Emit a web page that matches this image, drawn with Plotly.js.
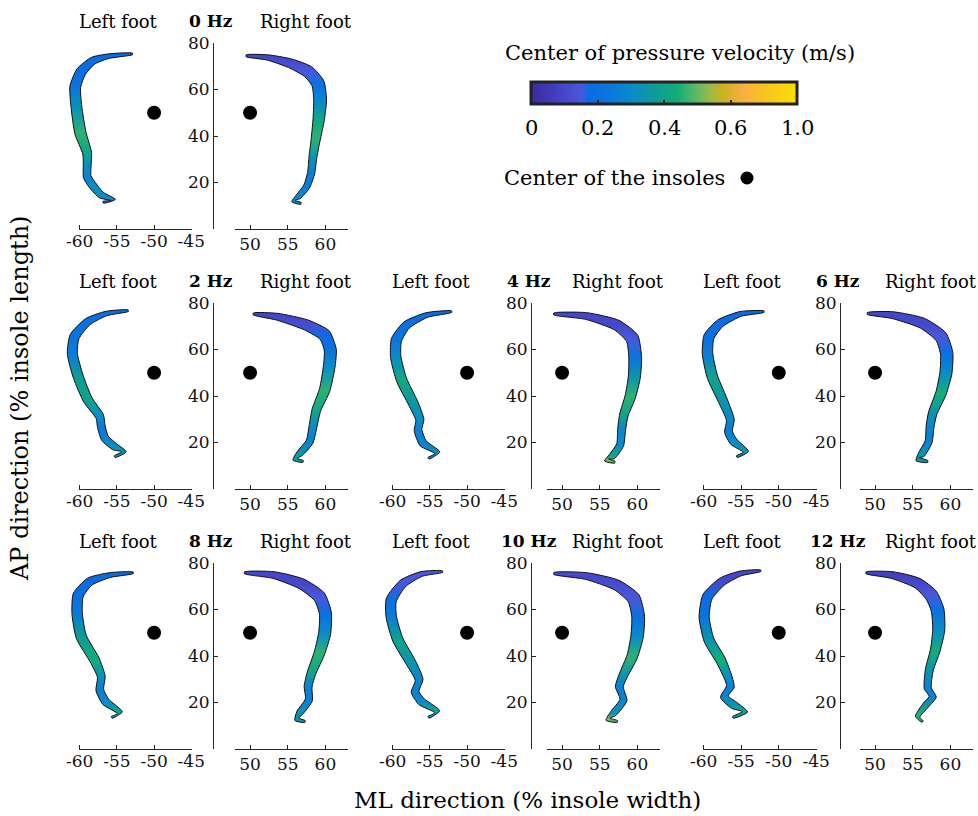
<!DOCTYPE html>
<html><head><meta charset="utf-8">
<script src="https://cdn.plot.ly/plotly-3.0.1.min.js"></script>
<style>html,body{margin:0;padding:0;background:#fff}#plot{width:978px;height:816px}</style>
</head><body><div id="plot"></div>
<script>
// ---------------- DATA ----------------
const panelLabels = ['0 Hz','2 Hz','4 Hz','6 Hz','8 Hz','10 Hz','12 Hz'];
const footLabels = ['Left foot','Right foot'];
const leftTickVals = [-60,-55,-50,-45];
const leftTickText = ['-60','-55','-50','-45'];
const rightTickVals = [50,55,60];
const rightTickText = ['50','55','60'];
const yTickVals = [20,40,60,80];
const yTickText = ['20','40','60','80'];
const insoleCenterLeft = [-50, 50];
const insoleCenterRight = [50, 50];
const cbTickVals = [0,0.2,0.4,0.6,0.8];
const cbTickText = ['0','0.2','0.4','0.6','1.0'];
const legendTitle = 'Center of pressure velocity (m/s)';
const legendDot = 'Center of the insoles';
const xTitle = 'ML direction (% insole width)';
const yTitle = 'AP direction (% insole length)';

// centre-line of COP band (x, y), band width (x units), velocity (m/s)
// 0 Hz
const hz0_L_x = [-52.9,-56.0,-58.2,-59.8,-60.6,-60.45,-59.9,-59.0,-59.0,-59.0,-58.3,-57.1,-55.5,-56.85];
const hz0_L_y = [75.3,74.4,72.4,67.7,61.2,52.6,41.2,32.6,26.8,22.5,18.9,14.6,12.5,11.5];
const hz0_L_w = [0.2,0.6,1.0,1.35,1.45,1.45,1.5,1.2,1.05,1.05,1.05,0.9,0.6,0.25];
const hz0_L_v = [0.18,0.18,0.18,0.18,0.22,0.32,0.46,0.40,0.30,0.27,0.30,0.32,0.28,0.25];
const hz0_R_x = [49.48,52.3,55.3,57.7,59.0,59.3,59.1,58.7,58.35,58.1,57.5,56.4,55.75,56.75];
const hz0_R_y = [74.5,73.8,71.3,67.7,62.7,55.5,46.9,38.3,31.1,24.0,18.2,13.9,12.0,11.0];
const hz0_R_w = [0.25,0.7,1.2,1.6,1.7,1.7,1.5,1.2,1.05,0.95,0.85,0.7,0.45,0.25];
const hz0_R_v = [0.1,0.1,0.12,0.15,0.2,0.28,0.42,0.46,0.34,0.26,0.25,0.3,0.3,0.28];
// 2 Hz
const hz2_L_x = [-53.47,-56.4,-58.9,-60.7,-61.0,-60.2,-58.9,-57.3,-57.1,-56.6,-55.3,-54.05,-55.3];
const hz2_L_y = [76.7,75.5,72.0,65.5,58.4,48.3,38.3,31.1,26.8,21.8,18.2,16.0,13.9];
const hz2_L_w = [0.2,0.6,1.0,1.3,1.35,1.35,1.25,1.1,1.05,1.05,0.95,0.6,0.25];
const hz2_L_v = [0.2,0.2,0.2,0.22,0.25,0.38,0.40,0.3,0.25,0.27,0.32,0.35,0.3];
const hz2_R_x = [50.43,53.6,57.5,59.9,60.65,60.5,59.9,58.8,58.35,57.9,56.6,55.97,57.05];
const hz2_R_y = [75.3,74.1,70.5,66.2,59.8,52.6,42.6,34.0,26.8,20.3,15.3,12.8,11.8];
const hz2_R_w = [0.25,0.9,1.4,1.65,1.6,1.55,1.4,1.15,1.05,0.95,0.85,0.6,0.25];
const hz2_R_v = [0.1,0.1,0.12,0.17,0.22,0.3,0.46,0.42,0.3,0.27,0.33,0.38,0.35];
// 4 Hz
const hz4_L_x = [-52.07,-55.45,-58.15,-59.5,-59.6,-58.8,-57.25,-56.35,-56.6,-55.9,-54.0,-55.2];
const hz4_L_y = [76.3,74.8,70.5,64.1,56.9,46.9,36.9,29.7,25.4,19.6,15.6,13.2];
const hz4_L_w = [0.2,0.65,1.1,1.4,1.4,1.4,1.3,1.1,1.05,1.05,0.7,0.25];
const hz4_L_v = [0.2,0.2,0.2,0.22,0.3,0.42,0.36,0.3,0.27,0.27,0.32,0.3];
const hz4_R_x = [48.9,53.2,57.25,59.3,59.7,59.6,59.05,58.2,57.9,57.7,56.6,55.9,57.0];
const hz4_R_y = [75.3,74.4,70.5,64.8,56.9,48.3,39.7,31.8,25.4,18.9,13.9,12.5,11.5];
const hz4_R_w = [0.25,0.9,1.4,1.7,1.7,1.6,1.4,1.15,1.05,0.95,0.85,0.6,0.25];
const hz4_R_v = [0.1,0.1,0.1,0.15,0.22,0.34,0.46,0.4,0.28,0.3,0.42,0.52,0.46];
// 6 Hz
const hz6_L_x = [-51.97,-55.1,-57.8,-59.3,-59.5,-58.85,-57.3,-56.45,-56.7,-56.0,-54.4,-55.6];
const hz6_L_y = [76.3,75.3,71.3,65.5,58.4,48.3,36.9,29.7,24.6,20.3,16.0,13.9];
const hz6_L_w = [0.2,0.65,1.1,1.4,1.4,1.4,1.2,1.05,1.05,1.05,0.7,0.25];
const hz6_L_v = [0.18,0.18,0.18,0.2,0.25,0.4,0.34,0.28,0.26,0.3,0.36,0.3];
const hz6_R_x = [48.97,52.3,56.3,58.75,59.5,59.4,58.75,57.65,57.3,57.1,56.1,55.65,57.0];
const hz6_R_y = [75.5,74.8,71.3,65.5,58.4,49.8,41.2,32.6,26.8,20.3,14.6,12.8,11.8];
const hz6_R_w = [0.25,0.9,1.4,1.65,1.65,1.6,1.4,1.15,1.05,0.95,0.85,0.6,0.25];
const hz6_R_v = [0.1,0.1,0.1,0.15,0.2,0.3,0.44,0.34,0.27,0.27,0.33,0.36,0.33];
// 8 Hz
const hz8_L_x = [-52.8,-55.95,-58.65,-60.2,-60.35,-59.8,-58.0,-57.1,-57.3,-56.5,-54.6,-55.7];
const hz8_L_y = [75.8,74.8,72.0,66.2,58.4,48.3,38.3,31.1,25.4,20.3,15.6,13.6];
const hz8_L_w = [0.2,0.65,1.1,1.4,1.4,1.4,1.3,1.05,1.05,1.05,0.7,0.25];
const hz8_L_v = [0.18,0.18,0.18,0.2,0.25,0.38,0.44,0.32,0.26,0.3,0.4,0.3];
const hz8_R_x = [49.26,53.15,56.85,59.2,60.0,59.9,59.2,58.15,57.7,57.8,56.6,56.2,57.3];
const hz8_R_y = [75.8,74.8,71.0,65.5,58.4,49.8,41.2,32.6,26.8,21.1,15.6,12.8,11.8];
const hz8_R_w = [0.25,0.9,1.4,1.65,1.6,1.6,1.4,1.15,1.05,0.95,0.85,0.6,0.25];
const hz8_R_v = [0.1,0.1,0.1,0.15,0.2,0.3,0.46,0.4,0.27,0.27,0.32,0.36,0.33];
// 10 Hz
const hz10_L_x = [-53.3,-56.1,-58.6,-60.2,-60.2,-59.3,-57.5,-56.45,-57.0,-56.1,-54.0,-55.2];
const hz10_L_y = [76.3,75.3,71.3,64.1,56.9,46.9,36.9,29.7,24.6,20.3,16.0,13.6];
const hz10_L_w = [0.2,0.65,1.1,1.4,1.4,1.4,1.3,1.05,1.05,1.05,0.7,0.25];
const hz10_L_v = [0.15,0.15,0.15,0.2,0.25,0.4,0.34,0.28,0.27,0.3,0.42,0.35];
const hz10_R_x = [48.9,53.2,57.25,59.5,60.1,59.95,59.3,58.15,57.6,58.15,56.8,56.1,57.35];
const hz10_R_y = [75.5,74.4,70.5,64.8,56.9,48.3,39.7,31.8,26.8,21.1,15.3,12.8,11.8];
const hz10_R_w = [0.25,0.9,1.4,1.7,1.7,1.65,1.4,1.15,1.05,0.95,0.85,0.6,0.25];
const hz10_R_v = [0.12,0.1,0.12,0.15,0.2,0.3,0.46,0.34,0.27,0.28,0.33,0.52,0.46];
// 12 Hz
const hz12_L_x = [-52.4,-55.1,-57.55,-59.5,-59.95,-59.3,-57.75,-56.7,-56.45,-57.25,-56.0,-54.5,-56.1];
const hz12_L_y = [76.7,75.5,72.0,65.5,56.9,46.9,38.3,30.4,26.8,22.5,18.9,16.0,13.6];
const hz12_L_w = [0.2,0.65,1.1,1.35,1.35,1.35,1.3,1.05,1.05,1.05,1.05,0.7,0.25];
const hz12_L_v = [0.1,0.1,0.1,0.18,0.22,0.34,0.44,0.3,0.27,0.28,0.34,0.42,0.35];
const hz12_R_x = [48.8,52.3,55.65,57.45,58.3,58.45,58.0,57.2,57.0,57.65,56.75,55.65,56.3];
const hz12_R_y = [75.8,74.8,71.3,66.2,59.8,51.2,42.6,34.0,26.1,22.5,18.9,13.9,11.8];
const hz12_R_w = [0.25,0.9,1.4,1.7,1.7,1.6,1.3,1.05,0.95,0.95,0.85,0.6,0.25];
const hz12_R_v = [0.08,0.08,0.1,0.15,0.2,0.3,0.44,0.34,0.27,0.27,0.36,0.46,0.4];

// ---------------- STYLE / LAYOUT ----------------
const W = 978, H = 816;
const SERIF = '"DejaVu Serif", "Liberation Serif", serif';
const AXC = '#262626';
const colGeom = [
  {L:[79,192], yax:213, R:[235,348]},
  {L:[392,505], yax:531, R:[547,660]},
  {L:[703,817], yax:840, R:[860,973]}
];
const rowGeom = [{top:43,bot:229},{top:303,bot:489},{top:563,bot:749}];
const panelPos = [[0,0],[1,0],[1,1],[1,2],[2,0],[2,1],[2,2]];
const LEFT_RANGE = [-60.1,-44.9], RIGHT_RANGE = [48,63], Y_RANGE = [0,80];
const LEFT_EXT = 24;
const VMAX = 0.8;
const CB = {x0:531, x1:797, y0:85, y1:107};
const cscale = [[0,'#3b2a98'],[0.1,'#4340c4'],[0.19,'#4a58dc'],[0.215,'#0a6ae4'],[0.3,'#0a78dc'],
  [0.38,'#0a8cc8'],[0.47,'#0e9c94'],[0.55,'#12ae78'],[0.62,'#5cb868'],[0.68,'#a4b844'],
  [0.72,'#c8b41c'],[0.8,'#f8b040'],[0.86,'#f8c024'],[1,'#f8e000']];

function hex2rgb(h){return [parseInt(h.slice(1,3),16),parseInt(h.slice(3,5),16),parseInt(h.slice(5,7),16)];}
function cmap(t){
  t = Math.max(0, Math.min(1, t));
  for (let i=1;i<cscale.length;i++){
    if (t <= cscale[i][0]){
      const a=cscale[i-1], b=cscale[i];
      const f=(t-a[0])/(b[0]-a[0]||1);
      const ca=hex2rgb(a[1]), cb=hex2rgb(b[1]);
      return 'rgb('+ca.map((c,k)=>Math.round(c+(cb[k]-c)*f)).join(',')+')';
    }
  }
  return cscale[cscale.length-1][1];
}

const panels = [
  [hz0_L_x,hz0_L_y,hz0_L_w,hz0_L_v,hz0_R_x,hz0_R_y,hz0_R_w,hz0_R_v],
  [hz2_L_x,hz2_L_y,hz2_L_w,hz2_L_v,hz2_R_x,hz2_R_y,hz2_R_w,hz2_R_v],
  [hz4_L_x,hz4_L_y,hz4_L_w,hz4_L_v,hz4_R_x,hz4_R_y,hz4_R_w,hz4_R_v],
  [hz6_L_x,hz6_L_y,hz6_L_w,hz6_L_v,hz6_R_x,hz6_R_y,hz6_R_w,hz6_R_v],
  [hz8_L_x,hz8_L_y,hz8_L_w,hz8_L_v,hz8_R_x,hz8_R_y,hz8_R_w,hz8_R_v],
  [hz10_L_x,hz10_L_y,hz10_L_w,hz10_L_v,hz10_R_x,hz10_R_y,hz10_R_w,hz10_R_v],
  [hz12_L_x,hz12_L_y,hz12_L_w,hz12_L_v,hz12_R_x,hz12_R_y,hz12_R_w,hz12_R_v]
];

// build band polygon around centre line (offset perpendicular in pixel space)
function band(xs, ys, ws, sx, sy){
  const n = xs.length, A=[], B=[];
  for (let i=0;i<n;i++){
    const i0=Math.max(0,i-1), i1=Math.min(n-1,i+1);
    let tx=(xs[i1]-xs[i0])*sx, ty=(ys[i1]-ys[i0])*sy;
    const len=Math.hypot(tx,ty)||1; tx/=len; ty/=len;
    const nx=-ty, ny=tx, h=ws[i]*sx/2;
    A.push([xs[i]+nx*h/sx, ys[i]+ny*h/sy]);
    B.push([xs[i]-nx*h/sx, ys[i]-ny*h/sy]);
  }
  const poly = A.concat(B.reverse()); poly.push(A[0]);
  return {x:poly.map(p=>p[0]), y:poly.map(p=>p[1])};
}
function gradScale(ys, vs, ymin, ymax){
  const idx = ys.map((_,i)=>i).sort((a,b)=>ys[a]-ys[b]);
  const cs = [[0, cmap(vs[idx[0]]/VMAX)]];
  let last = 0;
  idx.forEach(i=>{
    const p=(ys[i]-ymin)/(ymax-ymin);
    if (p>last+1e-3 && p<1-1e-3){cs.push([p, cmap(vs[i]/VMAX)]); last=p;}
  });
  cs.push([1, cmap(vs[idx[idx.length-1]]/VMAX)]);
  return cs;
}

const traces=[], layout={
  width:W, height:H, margin:{l:0,r:0,t:0,b:0}, showlegend:false,
  paper_bgcolor:'#fff', plot_bgcolor:'rgba(0,0,0,0)',
  font:{family:SERIF, color:'#000'}, annotations:[], shapes:[]
};
const px2fx = p=>p/W, py2fy = p=>1-p/H;
const tickFont = {family:SERIF, size:17, color:'#111'};

panels.forEach((P,k)=>{
  const [r,c]=panelPos[k], cg=colGeom[c], rg=rowGeom[r];
  const nL=2*k+1, nR=2*k+2;
  const xn = n=>n===1?'x':'x'+n, yn=n=>n===1?'y':'y'+n;
  const xk = n=>n===1?'xaxis':'xaxis'+n, yk=n=>n===1?'yaxis':'yaxis'+n;
  const sxL=(cg.L[1]-cg.L[0])/(LEFT_RANGE[1]-LEFT_RANGE[0]);
  const sxR=(cg.R[1]-cg.R[0])/(RIGHT_RANGE[1]-RIGHT_RANGE[0]);
  const sy=(rg.bot-rg.top)/(Y_RANGE[1]-Y_RANGE[0]);
  const ydom=[py2fy(rg.bot), py2fy(rg.top)];
  layout[xk(nL)] = {domain:[px2fx(cg.L[0]-LEFT_EXT), px2fx(cg.L[1])],
    range:[LEFT_RANGE[0]-LEFT_EXT/sxL, LEFT_RANGE[1]], anchor:yn(nL),
    showline:false, showgrid:false, zeroline:false, ticks:'inside', ticklen:4, tickcolor:AXC,
    tickvals:leftTickVals, ticktext:leftTickText, tickfont:tickFont, fixedrange:true};
  layout[yk(nL)] = {domain:ydom, range:Y_RANGE, anchor:xn(nL), visible:false, fixedrange:true};
  layout[xk(nR)] = {domain:[px2fx(cg.R[0]), px2fx(cg.R[1])], range:RIGHT_RANGE, anchor:yn(nR),
    showline:true, linecolor:AXC, linewidth:1, showgrid:false, zeroline:false, ticks:'inside',
    ticklen:4, tickcolor:AXC, tickvals:rightTickVals, ticktext:rightTickText, tickfont:tickFont, fixedrange:true};
  layout[yk(nR)] = {domain:ydom, range:Y_RANGE, anchor:'free', position:px2fx(cg.yax),
    showline:true, linecolor:AXC, linewidth:1, showgrid:false, zeroline:false, ticks:'inside',
    ticklen:4, tickcolor:AXC, tickvals:yTickVals, ticktext:yTickText, tickfont:tickFont, fixedrange:true};
  // left x axis line (only over the labelled span)
  layout.shapes.push({type:'line', xref:'paper', yref:'paper', x0:px2fx(cg.L[0]), x1:px2fx(cg.L[1]),
    y0:py2fy(rg.bot+0.5), y1:py2fy(rg.bot+0.5), line:{color:AXC, width:1}});

  [[P[0],P[1],P[2],P[3],nL,sxL,insoleCenterLeft],[P[4],P[5],P[6],P[7],nR,sxR,insoleCenterRight]].forEach(f=>{
    const [xs,ys,ws,vs,n,sx,ctr]=f;
    const poly=band(xs,ys,ws,sx,sy);
    const ymin=Math.min(...poly.y), ymax=Math.max(...poly.y);
    traces.push({type:'scatter', x:poly.x, y:poly.y, xaxis:xn(n), yaxis:yn(n), mode:'lines',
      fill:'toself', fillcolor:cmap(0.3/VMAX), line:{color:'#111', width:1, shape:'spline', smoothing:0.6},
      fillgradient:{type:'vertical', colorscale:gradScale(ys,vs,ymin,ymax), start:ymin, stop:ymax},
      hoverinfo:'skip'});
    traces.push({type:'scatter', x:[ctr[0]], y:[ctr[1]], xaxis:xn(n), yaxis:yn(n), mode:'markers',
      marker:{color:'#000', size:14}, cliponaxis:false, hoverinfo:'skip'});
  });

  // titles
  const ty = py2fy(rg.top-22);
  layout.annotations.push({text:footLabels[0], xref:'paper', yref:'paper', x:px2fx(cg.L[0]+39), y:ty,
    xanchor:'center', yanchor:'middle', showarrow:false, font:{family:SERIF, size:18, color:'#000'}});
  layout.annotations.push({text:'<b>'+panelLabels[k]+'</b>', xref:'paper', yref:'paper', x:px2fx(cg.yax-2), y:ty,
    xanchor:'center', yanchor:'middle', showarrow:false, font:{family:SERIF, size:17, color:'#000'}});
  layout.annotations.push({text:footLabels[1], xref:'paper', yref:'paper', x:px2fx(cg.R[0]+71), y:ty,
    xanchor:'center', yanchor:'middle', showarrow:false, font:{family:SERIF, size:18, color:'#000'}});
});

// colour bar (dummy, clipped point)
traces.push({type:'scatter', x:[-100], y:[-100], xaxis:'x', yaxis:'y', mode:'markers', hoverinfo:'skip',
  marker:{color:[0], cmin:0, cmax:VMAX, colorscale:cscale, showscale:true, size:1,
    colorbar:{orientation:'h', x:px2fx((CB.x0+CB.x1)/2), xanchor:'center', y:py2fy(CB.y0-3), yanchor:'top',
      len:CB.x1-CB.x0, lenmode:'pixels', thickness:CB.y1-CB.y0, thicknessmode:'pixels',
      outlinewidth:3, outlinecolor:'#222', showticklabels:false,
      tickvals:cbTickVals, ticks:'inside', ticklen:5, tickwidth:2, tickcolor:'#222',
      xpad:0, ypad:0, borderwidth:0}}});
cbTickVals.forEach((v,i)=>{
  layout.annotations.push({text:cbTickText[i], xref:'paper', yref:'paper',
    x:px2fx(CB.x0+(CB.x1-CB.x0)*v/VMAX), y:py2fy(128), xanchor:'center', yanchor:'middle',
    showarrow:false, font:{family:SERIF, size:21, color:'#000'}});
});

layout.annotations.push({text:legendTitle, xref:'paper', yref:'paper', x:px2fx(680), y:py2fy(53),
  xanchor:'center', yanchor:'middle', showarrow:false, font:{family:SERIF, size:21, color:'#000'}});
layout.annotations.push({text:legendDot, xref:'paper', yref:'paper', x:px2fx(727), y:py2fy(178),
  xanchor:'right', yanchor:'middle', showarrow:false, font:{family:SERIF, size:21, color:'#000'}});
layout.shapes.push({type:'circle', xref:'paper', yref:'paper', x0:px2fx(740.5), x1:px2fx(753.5),
  y0:py2fy(184.5), y1:py2fy(171.5), fillcolor:'#000', line:{color:'#000', width:0}});
layout.annotations.push({text:yTitle, xref:'paper', yref:'paper', x:px2fx(20), y:py2fy(398),
  xanchor:'center', yanchor:'middle', textangle:-90, showarrow:false, font:{family:SERIF, size:24, color:'#000'}});
layout.annotations.push({text:xTitle, xref:'paper', yref:'paper', x:px2fx(527), y:py2fy(800),
  xanchor:'center', yanchor:'middle', showarrow:false, font:{family:SERIF, size:23, color:'#000'}});

Plotly.newPlot('plot', traces, layout, {displayModeBar:false, staticPlot:true});
</script></body></html>
